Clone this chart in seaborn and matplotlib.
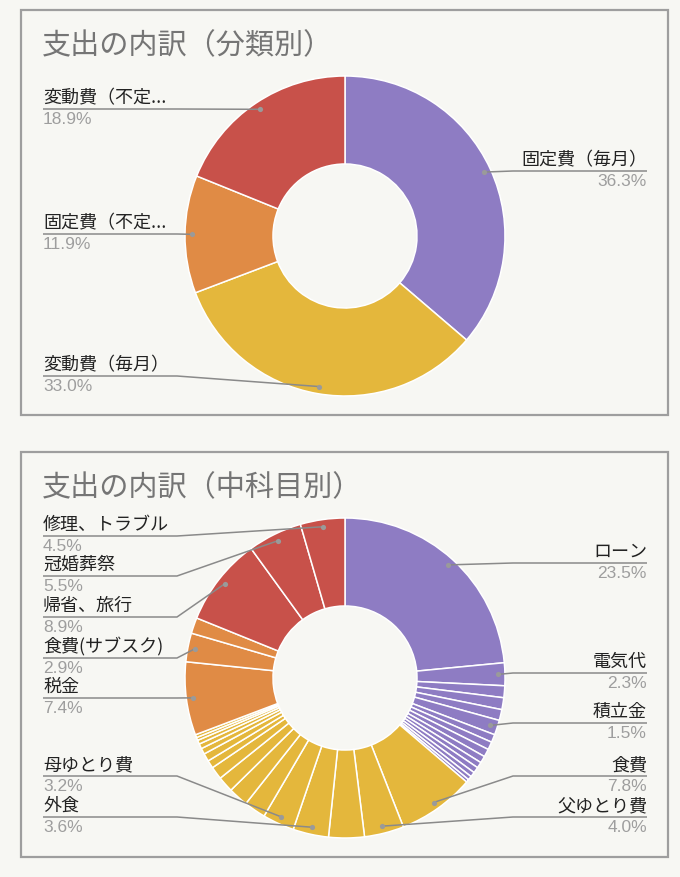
import numpy as np
import matplotlib
matplotlib.use("Agg")
import matplotlib.pyplot as plt
import seaborn as sns
from matplotlib.patches import Rectangle

# === 分類別 (top chart) ===
group_names = ["固定費（毎月）", "変動費（毎月）", "固定費（不定期）", "変動費（不定期）"]
group_share = [36.3, 33.0, 11.9, 18.9]
group_colors = ["#8E7CC3", "#E4B73C", "#E08B45", "#C8514A"]

# === 中科目別 (bottom chart), grouped in the same order as above ===
fixed_monthly = [23.5, 2.3, 1.2, 1.2, 1.1, 1.5, 0.8, 0.8, 0.8, 0.7, 0.6, 0.6, 0.5, 0.4, 0.3]
fixed_monthly_names = ["ローン", "電気代", "", "", "", "積立金", "", "", "", "", "", "", "", "", ""]
var_monthly = [7.8, 4.0, 3.6, 3.6, 3.2, 2.2, 2.0, 1.6, 1.3, 0.8, 0.8, 0.6, 0.5, 0.4, 0.3, 0.3]
var_monthly_names = ["食費", "父ゆとり費", "", "外食", "母ゆとり費", "", "", "", "", "", "", "", "", "", "", ""]
fixed_irregular = [7.4, 2.9, 1.6]
fixed_irregular_names = ["税金", "食費(サブスク)", ""]
var_irregular = [8.9, 5.5, 4.5]
var_irregular_names = ["帰省、旅行", "冠婚葬祭", "修理、トラブル"]

# === label rows: name -> (side, y of leader line in px) ===
top_label_rows = {
    "固定費（毎月）": ("R", 172),
    "変動費（毎月）": ("L", 377),
    "固定費（不定期）": ("L", 235),
    "変動費（不定期）": ("L", 110),
}
bottom_label_rows = {
    "ローン": ("R", 564), "電気代": ("R", 674), "積立金": ("R", 724),
    "食費": ("R", 777), "父ゆとり費": ("R", 818),
    "外食": ("L", 818), "母ゆとり費": ("L", 777), "税金": ("L", 699),
    "食費(サブスク)": ("L", 659), "帰省、旅行": ("L", 618),
    "冠婚葬祭": ("L", 577), "修理、トラブル": ("L", 537),
}

W, H = 680, 878
BG = "#F7F7F3"
JP = ["Noto Sans CJK JP", "DejaVu Sans"]
NUM = ["Liberation Sans", "DejaVu Sans"]

sns.set_theme(style="white")
plt.rcParams["font.family"] = JP

fig = plt.figure(figsize=(W / 100, H / 100), dpi=100, facecolor=BG)
ax = fig.add_axes([0, 0, 1, 1])
ax.set_facecolor(BG)


def Y(y):
    # pixel row (from top) -> data y
    return H - y


def shorten(name):
    # full-width chars count 1, ascii 0.5; long names get cut like the chart tool does
    width = sum(0.5 if ord(c) < 128 else 1 for c in name)
    return name if width <= 7 else name[:6] + "..."


def draw_panel(top, title, values, names, colors, rows):
    ax.add_patch(Rectangle((21, Y(top + 405)), 647, 405, fill=False,
                           edgecolor="#9E9E9E", linewidth=1.6, zorder=1))
    ax.text(42, Y(top + 35), title, fontsize=21, color="#757575",
            va="center", ha="left", family=JP)
    cx, cy, R = 345, Y(top + 226), 160
    wedges, _ = ax.pie(values, colors=colors, startangle=90, counterclock=False,
                       center=(cx, cy), radius=R, normalize=True,
                       wedgeprops=dict(width=R * 0.55, edgecolor="white", linewidth=1.1))
    total = sum(values)
    for w, name, v in zip(wedges, names, values):
        if name not in rows:
            continue
        side, ly = rows[name]
        mid = np.deg2rad((w.theta1 + w.theta2) / 2)
        dx, dy = cx + 0.955 * R * np.cos(mid), cy + 0.955 * R * np.sin(mid)
        pct = f"{100 * v / total:.1f}%"
        if side == "L":
            xs, xe, ha = 43, 177, "left"
        else:
            xs, xe, ha = 647, 513, "right"
        ax.plot([xs, xe, dx], [Y(ly), Y(ly), dy], color="#8A8A8A", lw=1.1,
                solid_capstyle="butt", zorder=3)
        ax.scatter([dx], [dy], s=14, color="#9A9A9A", zorder=4, linewidths=0)
        ax.text(xs, Y(ly) + 3, shorten(name), fontsize=13, color="#222222",
                ha=ha, va="bottom", family=JP)
        ax.text(xs, Y(ly) - 2, pct, fontsize=12.5, color="#9E9E9E",
                ha=ha, va="top", family=NUM)


draw_panel(11, "支出の内訳（分類別）", group_share, group_names, group_colors, top_label_rows)

sub_values = fixed_monthly + var_monthly + fixed_irregular + var_irregular
sub_names = fixed_monthly_names + var_monthly_names + fixed_irregular_names + var_irregular_names
sub_colors = ([group_colors[0]] * len(fixed_monthly) + [group_colors[1]] * len(var_monthly)
              + [group_colors[2]] * len(fixed_irregular) + [group_colors[3]] * len(var_irregular))
draw_panel(453, "支出の内訳（中科目別）", sub_values, sub_names, sub_colors, bottom_label_rows)

ax.set_aspect("auto")
ax.set_xlim(0, W)
ax.set_ylim(0, H)
ax.axis("off")

fig.savefig("out.png", dpi=100, facecolor=BG)
